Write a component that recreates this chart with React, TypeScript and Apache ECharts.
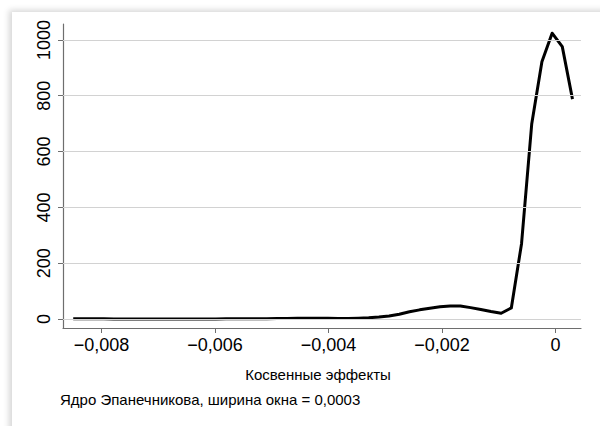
import React, { useEffect, useRef } from "react";
import * as echarts from "echarts";

const xValues: number[] = [
  -0.0085, -0.00832, -0.008141, -0.007961, -0.007782, -0.007602, -0.007422, -0.007243, -0.007063, -0.006884,
  -0.006704, -0.006524, -0.006345, -0.006165, -0.005986, -0.005806, -0.005627, -0.005447, -0.005267, -0.005088,
  -0.004908, -0.004729, -0.004549, -0.004369, -0.00419, -0.00401, -0.003831, -0.003651, -0.003471, -0.003292,
  -0.003112, -0.002933, -0.002753, -0.002573, -0.002394, -0.002214, -0.002035, -0.001855, -0.001676, -0.001496,
  -0.001316, -0.001137, -0.000957, -0.000778, -0.000598, -0.000418, -0.000239, -0.000059, 0.00012, 0.0003,
];
const densityValues: number[] = [
  1.5, 1.2, 1.0, 0.8, 0.5, 0.4, 0.3, 0.3, 0.3, 0.4,
  0.5, 0.5, 0.5, 0.6, 0.6, 0.7, 0.8, 1.0, 1.2, 1.5,
  1.8, 2.2, 2.5, 3, 3, 2.5, 2, 2, 3, 4.5,
  7, 11, 17, 26, 33, 39, 44, 47, 47, 41,
  34, 27, 21, 40, 270, 700, 922, 1024, 976, 788,
];
const xTicks: number[] = [-0.008, -0.006, -0.004, -0.002, 0];
const yTicks: number[] = [0, 200, 400, 600, 800, 1000];
const xTitle = "Косвенные эффекты";
const note = "Ядро Эпанечникова, ширина окна = 0,0003";

const fmt = (v: number) => {
  if (Math.abs(v) < 1e-12) return "0";
  const s = String(Number(v.toFixed(6)));
  return s.replace("-", "\u2212").replace(".", ",");
};

export default function App() {
  const ref = useRef<HTMLDivElement>(null);
  useEffect(() => {
    if (!ref.current) return;
    const chart = echarts.init(ref.current, null, { renderer: "svg" });
    const font = "Liberation Sans, Arial, sans-serif";
    chart.setOption({
      animation: false,
      grid: { left: 63, top: 24, width: 518, height: 304, containLabel: false },
      xAxis: {
        type: "value",
        min: -0.00868,
        max: 0.00045,
        axisLine: { show: true, onZero: false, lineStyle: { color: "#6e6e6e", width: 1.2 } },
        axisTick: { show: true, inside: false, length: 5, customValues: xTicks, lineStyle: { color: "#6e6e6e" } },
        axisLabel: {
          customValues: xTicks,
          formatter: (v: number) => fmt(v),
          margin: 8,
          fontSize: 18,
          color: "#000",
          fontFamily: font,
        },
        splitLine: { show: false },
      },
      yAxis: {
        type: "value",
        min: -32,
        max: 1057,
        axisLine: { show: true, onZero: false, lineStyle: { color: "#6e6e6e", width: 1.2 } },
        axisTick: { show: true, inside: false, length: 5, customValues: yTicks, lineStyle: { color: "#6e6e6e" } },
        axisLabel: {
          customValues: yTicks,
          rotate: 90,
          margin: 10,
          fontSize: 18,
          color: "#000",
          fontFamily: font,
          formatter: (v: number) => fmt(v),
        },
        splitLine: { show: false },
      },
      series: [
        {
          type: "line",
          data: [],
          z: 1,
          silent: true,
          markLine: {
            silent: true,
            symbol: "none",
            label: { show: false },
            lineStyle: { color: "#d2d2d2", type: "solid", width: 1.2 },
            data: yTicks.map((v) => ({ yAxis: v })),
          },
        },
        {
          type: "line",
          z: 3,
          data: xValues.map((x, i) => [x, densityValues[i]]),
          showSymbol: false,
          symbol: "none",
          lineStyle: { color: "#000", width: 3, join: "round" },
          itemStyle: { color: "#000" },
        },
      ],
      graphic: [
        {
          type: "text",
          x: 318,
          y: 374,
          style: {
            text: xTitle,
            fontSize: 15,
            fontFamily: font,
            fill: "#000",
            align: "center",
            verticalAlign: "middle",
          },
        },
        {
          type: "text",
          x: 60,
          y: 399,
          style: {
            text: note,
            fontSize: 15,
            fontFamily: font,
            fill: "#000",
            align: "left",
            verticalAlign: "middle",
          },
        },
      ],
    });
    return () => chart.dispose();
  }, []);
  return (
    <div style={{ position: "fixed", left: 0, top: 0, width: 600, height: 426, background: "#fff", overflow: "hidden" }}>
      <div
        style={{
          position: "absolute",
          left: 12,
          top: 12,
          width: 600,
          height: 430,
          background: "#fff",
          boxShadow: "-3px -2px 6px rgba(0,0,0,0.16)",
        }}
      />
      <div ref={ref} style={{ position: "absolute", left: 0, top: 0, width: 600, height: 426 }} />
    </div>
  );
}
